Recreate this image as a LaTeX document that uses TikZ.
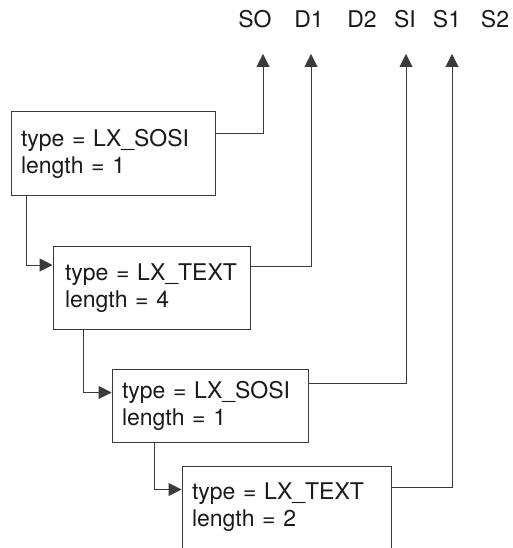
\documentclass[tikz,border=0pt]{standalone}
\usepackage{fontspec}
\setmainfont{TeX Gyre Heros}
\usetikzlibrary{arrows.meta,positioning}
\definecolor{LineGray}{HTML}{3A3A3A}
\definecolor{InkBlack}{HTML}{1A1A1A}
\newcommand{\tokfont}{\fontsize{23}{27}\selectfont}

\begin{document}
\begin{tikzpicture}[x=1pt,y=-1pt,
    box/.style={draw=LineGray,line width=1pt,minimum height=83pt,inner xsep=10pt,
      align=left,text=InkBlack,font=\tokfont},
    tok/.style={inner sep=0pt,text=InkBlack,font=\tokfont,anchor=base},
    link/.style={LineGray,line width=1pt},
    arr/.style={link,-{Triangle[length=13pt,width=13pt]}}]
  \useasboundingbox (0,0) rectangle (513,548);
  \clip (0,0) rectangle (513,548);
  % byte string
  \node[tok] (so) at (255,28) {SO};
  \node[tok] (d1) at (309,28) {D1};
  \node[tok] (d2) at (362,28) {D2};
  \node[tok] (si) at (405,28) {SI};
  \node[tok] (s1) at (447,28) {S1};
  \node[tok] (s2) at (495,28) {S2};
  % token chain
  \node[box,text width=184pt] (b1) at (113,153.5) {type = LX\_SOSI\\length = 1};
  \node[box,text width=173pt,inner xsep=12pt] (b2) at (151.5,288) {type = LX\_TEXT\\length = 4};
  \node[box,text width=176pt,minimum height=73pt] (b3) at (210,405.5) {type = LX\_SOSI\\length = 1};
  \node[box,text width=189pt] (b4) at (286.5,507.5) {type = LX\_TEXT\\length = 2};
  % pointers into the string
  \draw[arr] ([yshift=-22pt]b1.north east) -| ([xshift=8pt,yshift=-26pt]so.base);
  \draw[arr] ([yshift=-20pt]b2.north east) -| ([xshift=2pt,yshift=-26pt]d1.base);
  \draw[arr] ([yshift=-15pt]b3.north east) -| ([xshift=1pt,yshift=-26pt]si.base);
  \draw[arr] ([yshift=-22pt]b4.north east) -| ([xshift=5pt,yshift=-26pt]s1.base);
  % next links
  \draw[arr] ([xshift=16pt]b1.south west) |- ([yshift=-19pt]b2.north west);
  \draw[arr] ([xshift=31pt]b2.south west) |- ([yshift=-24pt]b3.north west);
  \draw[arr] ([xshift=43pt]b3.south west) |- ([yshift=-24pt]b4.north west);
\end{tikzpicture}
\end{document}
